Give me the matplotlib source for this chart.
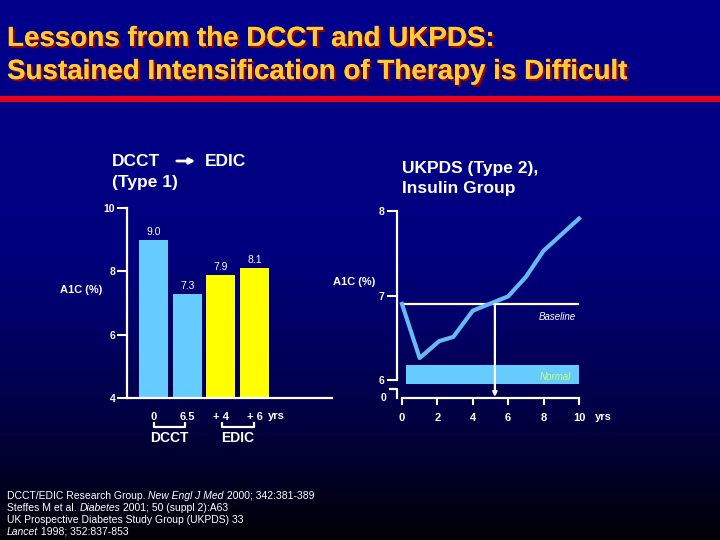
import numpy as np
import matplotlib
matplotlib.use('Agg')
import matplotlib.pyplot as plt
from matplotlib import patheffects as pe
from matplotlib.patches import Rectangle, FancyArrowPatch

plt.rcParams['font.family'] = ['Liberation Sans', 'DejaVu Sans']

# ---------------- data ----------------
dcct_edic_labels = ['0', '6.5', '+ 4', '+ 6']
dcct_edic_a1c = [9.0, 7.3, 7.9, 8.1]
dcct_edic_colors = ['#66ccff', '#66ccff', '#ffff00', '#ffff00']
left_yticks = [4, 6, 8, 10]

ukpds_years = [0, 1, 2.1, 2.9, 4, 6, 7, 8, 10]
ukpds_a1c = [6.90, 6.26, 6.46, 6.51, 6.82, 6.99, 7.22, 7.53, 7.91]
ukpds_baseline = 6.90
normal_low, normal_high = 5.95, 6.18
normal_x = [0.25, 10]
crossing_year = 5.25
right_yticks = [6, 7, 8]
right_xticks = [0, 2, 4, 6, 8, 10]

title_lines = ['Lessons from the DCCT and UKPDS:',
               'Sustained Intensification of Therapy is Difficult']

# ---------------- figure ----------------
W, H = 720, 540
fig = plt.figure(figsize=(7.2, 5.4), dpi=100)


def fx(x):
    return x / W


def fy(y):
    return 1 - y / H


# background gradient
bg = fig.add_axes([0, 0, 1, 1], zorder=-10)
bg.axis('off')
ys = np.arange(H)
stops_y = [0, 250, 320, 420, 480, 540]
stops_b = [140, 126, 105, 65, 35, 5]
blue = np.interp(ys, stops_y, stops_b) / 255.0
grad = np.zeros((H, 1, 3))
grad[:, 0, 2] = blue
bg.imshow(grad, aspect='auto', extent=[0, 1, 0, 1], origin='upper')
bg.set_xlim(0, 1)
bg.set_ylim(0, 1)

# title
shadow = [pe.withSimplePatchShadow(offset=(1.5, -1.5), shadow_rgbFace='#990000', alpha=1.0), pe.Normal()]
fig.text(fx(7), fy(46), title_lines[0], fontsize=20, fontweight='bold', color='#ffcc33',
         va='baseline', ha='left', path_effects=shadow)
fig.text(fx(7), fy(79), title_lines[1], fontsize=20, fontweight='bold', color='#ffcc33',
         va='baseline', ha='left', path_effects=shadow)
fig.add_artist(Rectangle((0, fy(102)), 1, 6 / H, transform=fig.transFigure,
                         color='#e8001c', lw=0))

WHITE = 'white'

# ---------------- left chart ----------------
axL = fig.add_axes([fx(127), fy(398), fx(332 - 127), (398 - 208) / H])
axL.set_facecolor('none')
xpos = np.arange(len(dcct_edic_a1c))
axL.bar(xpos, dcct_edic_a1c, width=0.86, color=dcct_edic_colors, lw=0, zorder=2)
axL.set_xlim(-0.79, 5.30)
axL.set_ylim(4, 10)
for s in ['top', 'right']:
    axL.spines[s].set_visible(False)
for s in ['left', 'bottom']:
    axL.spines[s].set_color(WHITE)
    axL.spines[s].set_linewidth(1.6)
axL.set_yticks(left_yticks)
axL.set_yticklabels([str(v) for v in left_yticks], fontsize=7.5, fontweight='bold', color=WHITE)
axL.tick_params(axis='y', length=7, width=1.5, color=WHITE, pad=1.5)
axL.set_xticks(xpos)
axL.set_xticklabels(dcct_edic_labels, fontsize=8, fontweight='bold', color=WHITE)
axL.tick_params(axis='x', length=0, pad=10)
for i, v in enumerate(dcct_edic_a1c):
    axL.text(i, v + 0.25, f'{v:.1f}', ha='center', va='center', fontsize=7.5, color=WHITE)
tr = axL.get_xaxis_transform()
axL.text(3.66, -0.095, 'yrs', transform=tr, ha='center', va='center', fontsize=8,
         fontweight='bold', color=WHITE, clip_on=False)
for (a, b), lab in [((0.0, 0.93), 'DCCT'), ((2.03, 2.98), 'EDIC')]:
    axL.plot([a, a, b, b], [-0.126, -0.153, -0.153, -0.126], transform=tr, color=WHITE,
             lw=1.6, clip_on=False, solid_capstyle='butt')
    axL.text((a + b) / 2, -0.21, lab, transform=tr, ha='center', va='center', fontsize=10,
             fontweight='bold', color=WHITE, clip_on=False)

fig.text(fx(60), fy(290), 'A1C (%)', ha='left', va='center', fontsize=8,
         fontweight='bold', color=WHITE)
fig.text(fx(112), fy(161), 'DCCT', ha='left', va='center', fontsize=12.5,
         fontweight='bold', color=WHITE)
fig.add_artist(FancyArrowPatch((fx(174), fy(161)), (fx(198), fy(161)), transform=fig.transFigure,
                               arrowstyle='-|>', mutation_scale=8, lw=2, color=WHITE))
fig.text(fx(205), fy(161), 'EDIC', ha='left', va='center', fontsize=12.5,
         fontweight='bold', color=WHITE)
fig.text(fx(112), fy(183), '(Type 1)', ha='left', va='center', fontsize=12.5,
         fontweight='bold', color=WHITE)

# ---------------- right chart ----------------
axR = fig.add_axes([fx(397), fy(398), fx(579 - 397), (398 - 211) / H])
axR.set_facecolor('none')
axR.set_xlim(-0.28, 10.0)
axR.set_ylim(5.787, 8.0)
for s in ['top', 'right']:
    axR.spines[s].set_visible(False)
for s in ['left', 'bottom']:
    axR.spines[s].set_color(WHITE)
    axR.spines[s].set_linewidth(1.6)
axR.spines['left'].set_bounds(6, 8)
axR.spines['bottom'].set_bounds(0, 10)
axR.set_yticks(right_yticks)
axR.set_yticklabels([str(v) for v in right_yticks], fontsize=7.5, fontweight='bold', color=WHITE)
axR.tick_params(axis='y', length=7, width=1.5, color=WHITE, pad=2)
axR.set_xticks(right_xticks)
axR.set_xticklabels([str(v) for v in right_xticks], fontsize=8, fontweight='bold', color=WHITE)
axR.tick_params(axis='x', length=5, width=1.5, color=WHITE, pad=6)

# broken-axis stub for "0"
axR.plot([-0.0385, 0, 0], [0.048, 0.048, 0], transform=axR.transAxes, color=WHITE,
         lw=1.6, clip_on=False)
axR.text(-0.06, 0.0, '0', transform=axR.transAxes, ha='right', va='center', fontsize=7.5,
         fontweight='bold', color=WHITE)

axR.fill_between(normal_x, normal_low, normal_high, color='#66ccff', lw=0, zorder=1)
axR.hlines(ukpds_baseline, 0, 10, color=WHITE, lw=1.6, zorder=2)
axR.plot(ukpds_years, ukpds_a1c, color='#66bbf5', lw=3, zorder=3, clip_on=False)
axR.annotate('', xy=(crossing_year, 5.80), xytext=(crossing_year, ukpds_baseline),
             arrowprops=dict(arrowstyle='-|>', color=WHITE, lw=1.6, mutation_scale=6,
                             shrinkA=0, shrinkB=0), zorder=4)
axR.text(9.83, 6.745, 'Baseline', ha='right', va='center', fontsize=7, style='italic', color=WHITE)
axR.text(9.55, 6.035, 'Normal', ha='right', va='center', fontsize=7, style='italic',
         color='#ccff66', zorder=5)

fig.text(fx(595), fy(417), 'yrs', ha='left', va='center', fontsize=8,
         fontweight='bold', color=WHITE)
fig.text(fx(375), fy(282), 'A1C (%)', ha='right', va='center', fontsize=8,
         fontweight='bold', color=WHITE)
fig.text(fx(402), fy(168), 'UKPDS (Type 2),', ha='left', va='center', fontsize=12.5,
         fontweight='bold', color=WHITE)
fig.text(fx(402), fy(188), 'Insulin Group', ha='left', va='center', fontsize=12.5,
         fontweight='bold', color=WHITE)

# ---------------- footnote ----------------
foot = [
    [('DCCT/EDIC Research Group. ', 'normal'), ('New Engl J Med', 'italic'), (' 2000; 342:381-389', 'normal')],
    [('Steffes M et al. ', 'normal'), ('Diabetes', 'italic'), (' 2001; 50 (suppl 2):A63', 'normal')],
    [('UK Prospective Diabetes Study Group (UKPDS) 33', 'normal')],
    [('Lancet', 'italic'), (' 1998; 352:837-853', 'normal')],
]
foot_y = [499, 511, 523, 535]
FS = 7.5
for line, y in zip(foot, foot_y):
    last = None
    for txt, st in line:
        if last is None:
            last = fig.text(fx(7), fy(y), txt, ha='left', va='baseline', fontsize=FS,
                            style=st, color=WHITE)
        else:
            last = bg.annotate(txt, xy=(1, 0), xycoords=last, ha='left', va='bottom',
                               fontsize=FS, style=st, color=WHITE, annotation_clip=False)

fig.savefig('out.png', dpi=100)
